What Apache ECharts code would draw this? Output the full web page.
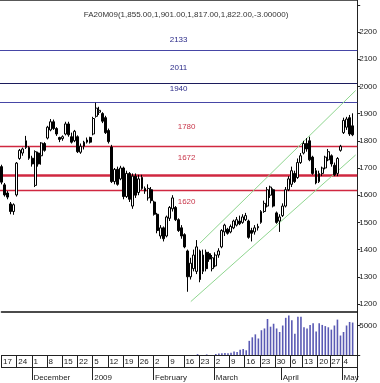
<!DOCTYPE html>
<html><head><meta charset="utf-8">
<script src="https://cdn.jsdelivr.net/npm/echarts@6/dist/echarts.min.js"></script>
<style>html,body{margin:0;padding:0;background:#fff}#c{width:380px;height:383px}</style>
</head><body><div id="c"></div>
<script>
const title = 'FA20M09(1,855.00,1,901.00,1,817.00,1,822.00,-3.00000)';
const dates = [
'2008-11-17','2008-11-18','2008-11-19','2008-11-20','2008-11-21','2008-11-24','2008-11-25','2008-11-26','2008-11-27','2008-11-28',
'2008-12-01','2008-12-02','2008-12-03','2008-12-04','2008-12-05','2008-12-08','2008-12-09','2008-12-10','2008-12-11','2008-12-12',
'2008-12-15','2008-12-16','2008-12-17','2008-12-18','2008-12-19','2008-12-22','2008-12-23','2008-12-24','2008-12-29','2008-12-30',
'2009-01-05','2009-01-06','2009-01-07','2009-01-08','2009-01-09','2009-01-12','2009-01-13','2009-01-14','2009-01-15','2009-01-16',
'2009-01-19','2009-01-20','2009-01-21','2009-01-22','2009-01-23','2009-01-26','2009-01-27','2009-01-28','2009-01-29','2009-01-30',
'2009-02-02','2009-02-03','2009-02-04','2009-02-05','2009-02-06','2009-02-09','2009-02-10','2009-02-11','2009-02-12','2009-02-13',
'2009-02-16','2009-02-17','2009-02-18','2009-02-19','2009-02-20','2009-02-23','2009-02-24','2009-02-25','2009-02-26','2009-02-27',
'2009-03-02','2009-03-03','2009-03-04','2009-03-05','2009-03-06','2009-03-09','2009-03-10','2009-03-11','2009-03-12','2009-03-13',
'2009-03-16','2009-03-17','2009-03-18','2009-03-19','2009-03-20','2009-03-23','2009-03-24','2009-03-25','2009-03-26','2009-03-27',
'2009-03-30','2009-03-31','2009-04-01','2009-04-02','2009-04-03','2009-04-06','2009-04-07','2009-04-08','2009-04-09',
'2009-04-13','2009-04-14','2009-04-15','2009-04-16','2009-04-17','2009-04-20','2009-04-21','2009-04-22','2009-04-23',
'2009-04-27','2009-04-28','2009-04-29','2009-04-30','2009-05-04','2009-05-05','2009-05-06','2009-05-07','2009-05-08'];
const weekTicks = ['2008-11-17','2008-11-24','2008-12-01','2008-12-08','2008-12-15','2008-12-22','2009-01-05','2009-01-12','2009-01-19','2009-01-26',
'2009-02-02','2009-02-09','2009-02-16','2009-02-23','2009-03-02','2009-03-09','2009-03-16','2009-03-23','2009-03-30','2009-04-06',
'2009-04-13','2009-04-20','2009-04-27','2009-05-04'];
const monthTicks = ['2008-12-01','2009-01-05','2009-02-02','2009-03-02','2009-04-01','2009-05-04'];
const monthLabels = ['December','2009','February','March','April','May'];
const opens = [1705,1638,1608,1568,1540,1601,1735,1755,1775,1775,1736,1636,1755,1745,1790,1810,1840,1870,1845,1812,
1808,1825,1862,1815,1800,1815,1758,1780,1795,1812,1825,1890,1905,1900,1885,1838,1777,1650,1695,1660,
1700,1595,1680,1560,1670,1610,1665,1625,1590,1620,1575,1530,1450,1480,1450,1515,1550,1555,1510,1480,
1455,1395,1300,1330,1320,1395,1320,1390,1385,1330,1340,1380,1410,1465,1475,1465,1480,1490,1505,1500,
1510,1505,1470,1465,1480,1500,1540,1560,1600,1620,1535,1505,1525,1560,1620,1640,1680,1665,1720,1755,
1790,1800,1740,1690,1650,1680,1700,1730,1745,1710,1680,1765,1830,1850,1885,1855];
const closes = [1648,1601,1593,1540,1565,1718,1765,1770,1800,1736,1715,1760,1715,1792,1765,1850,1870,1845,1825,1805,
1815,1862,1822,1795,1835,1760,1780,1795,1803,1795,1882,1920,1912,1872,1830,1797,1650,1695,1640,1700,
1595,1680,1585,1670,1600,1660,1625,1615,1625,1580,1530,1470,1480,1440,1520,1555,1590,1510,1470,1450,
1410,1300,1350,1380,1410,1290,1380,1330,1365,1370,1380,1395,1470,1490,1460,1485,1505,1510,1495,1520,
1525,1445,1460,1480,1485,1540,1570,1620,1630,1560,1500,1520,1560,1620,1660,1690,1650,1720,1745,1790,
1770,1730,1680,1645,1680,1700,1740,1760,1715,1675,1735,1780,1875,1880,1825,1822];
const lows = [1640,1595,1585,1530,1528,1595,1730,1745,1770,1730,1705,1630,1705,1712,1760,1805,1835,1840,1818,1795,
1800,1820,1815,1790,1795,1755,1752,1768,1790,1790,1820,1885,1895,1865,1825,1790,1645,1640,1635,1655,
1585,1590,1575,1550,1590,1600,1620,1605,1580,1570,1525,1460,1440,1430,1445,1505,1540,1505,1465,1440,
1405,1245,1290,1320,1310,1280,1310,1320,1355,1320,1335,1370,1405,1450,1455,1460,1475,1485,1490,1495,
1505,1440,1430,1455,1470,1495,1535,1555,1590,1555,1495,1465,1520,1555,1615,1630,1645,1660,1715,1750,
1760,1725,1675,1640,1645,1670,1695,1725,1705,1670,1670,1760,1825,1840,1818,1817];
const highs = [1712,1645,1615,1575,1570,1722,1770,1775,1818,1780,1745,1765,1760,1795,1795,1855,1880,1878,1850,1815,
1820,1870,1870,1830,1840,1820,1790,1800,1812,1815,1888,1940,1925,1905,1892,1845,1785,1700,1705,1708,
1705,1690,1685,1680,1680,1675,1675,1632,1640,1630,1580,1535,1490,1485,1525,1560,1600,1560,1515,1490,
1460,1400,1370,1400,1435,1400,1400,1400,1392,1380,1390,1405,1475,1495,1480,1492,1510,1520,1525,1530,
1535,1510,1480,1490,1495,1545,1580,1630,1635,1625,1540,1530,1570,1630,1670,1705,1690,1735,1755,1800,
1810,1815,1745,1700,1690,1705,1745,1770,1750,1720,1740,1785,1885,1888,1895,1901];
const volumes = [0,0,0,0,0,0,0,0,0,0, 0,0,0,0,0,0,0,0,0,0, 0,0,0,0,0,0,0,0,0,0, 0,0,0,0,0,0,0,0,0,0,
0,0,0,0,0,0,0,0,0,0, 0,0,0,0,0,0,0,0,0,0, 0,0,0,0,150,0,0,100,0,0,
150,250,300,350,300,400,600,500,900,1000, 800,2400,3000,3500,2800,4200,4500,6100,4800,5300,
4500,3900,5000,6300,6700,5900,3600,6500,6500,4700, 4500,5100,5400,4000,5400,5100,4900,4700,4300,5000,
6000,3300,3900,5000,5600,5500];
const levelsBlue = [2133, 2011, 1940];
const levelsRed = [1780, 1672, 1620];
const upperChannel = [[64.5, 1424], [116, 1985]];
const lowerChannel = [[62.0, 1209], [116, 1748]];

const FONT = 'Liberation Sans Narrow, Liberation Sans, Arial';
const weekSet = new Set(weekTicks);
const monthMap = {};
monthTicks.forEach((d, i) => monthMap[d] = monthLabels[i]);
const ohlc = opens.map((o, i) => [o, closes[i], lows[i], highs[i]]);

const blueDist = {2133: 6, 2011: 12, 1940: 10};
const redDist = {1780: 15, 1672: 14, 1620: 8};
const mlData = [];
levelsBlue.forEach(v => mlData.push({yAxis: v,
  lineStyle: {color: v === 2011 ? '#1c1c5c' : '#4646a6', width: 1.2, type: 'solid'},
  label: {show: true, formatter: String(v), position: 'insideMiddleTop', distance: blueDist[v], color: '#2a2a88', fontSize: 8, fontFamily: FONT}}));
levelsRed.forEach(v => mlData.push({yAxis: v,
  lineStyle: {color: '#d02840', width: v === 1672 ? 2.6 : 1.4, type: 'solid'},
  label: {show: true, formatter: String(v), position: v === 1620 ? 'insideMiddleBottom' : 'insideMiddleTop', distance: redDist[v], offset: [8, 0], color: '#c8364a', fontSize: 8, fontFamily: FONT}}));
[upperChannel, lowerChannel].forEach(ch => mlData.push([
  {coord: ch[0], lineStyle: {color: '#8fd68f', width: 1, type: 'solid'}, label: {show: false}},
  {coord: ch[1]}]));

const chart = echarts.init(document.getElementById('c'), null, {renderer: 'canvas'});
chart.setOption({
  animation: false,
  backgroundColor: '#fff',
  title: {text: title, left: 181, textAlign: 'center', top: 6, textStyle: {fontSize: 8, fontWeight: 'normal', color: '#333', fontFamily: FONT}},
  grid: [{left: 0, right: 18, top: 0, height: 312}, {left: 0, right: 18, top: 312, height: 43}],
  xAxis: [
    {type: 'category', gridIndex: 0, data: dates, position: 'top', axisLine: {show: true, onZero: false, lineStyle: {color: '#222', width: 1.5}}, axisTick: {show: false}, axisLabel: {show: false}},
    {type: 'category', gridIndex: 1, data: dates, position: 'bottom', axisLine: {show: true, onZero: false, lineStyle: {color: '#222'}},
      axisTick: {show: true, interval: (i, v) => weekSet.has(v), length: 12, lineStyle: {color: '#222'}},
      axisLabel: {show: true, interval: (i, v) => weekSet.has(v), formatter: v => String(parseInt(v.slice(8), 10)), align: 'left', margin: 3, fontSize: 8, color: '#222', fontFamily: FONT}},
    {type: 'category', gridIndex: 1, data: dates, position: 'bottom', offset: 12, axisLine: {show: true, onZero: false, lineStyle: {color: '#222'}},
      axisTick: {show: true, interval: (i, v) => v in monthMap, length: 13, lineStyle: {color: '#222'}},
      axisLabel: {show: true, interval: (i, v) => v in monthMap, formatter: v => monthMap[v] || '', align: 'left', margin: 7, fontSize: 8, color: '#222', fontFamily: FONT}},
    {type: 'category', gridIndex: 1, data: dates, position: 'top', axisLine: {show: true, onZero: false, lineStyle: {color: '#111', width: 1.5}}, axisTick: {show: false}, axisLabel: {show: false}}
  ],
  yAxis: [
    {type: 'value', gridIndex: 0, position: 'right', min: 1170.6, max: 2317.6, splitNumber: 11, scale: true,
      splitLine: {show: false}, axisLine: {show: true, onZero: false, lineStyle: {color: '#222'}}, axisTick: {show: true, length: 3, lineStyle: {color: '#222'}},
      axisLabel: {showMinLabel: false, showMaxLabel: false, formatter: v => (v % 100 === 0 && v <= 2200) ? String(v) : '', margin: 2, fontSize: 8, color: '#222', fontFamily: FONT}},
    {type: 'value', gridIndex: 1, position: 'right', min: 0, max: 7290, interval: 5000,
      splitLine: {show: false}, axisLine: {show: true, onZero: false, lineStyle: {color: '#222'}}, axisTick: {show: true, length: 3, lineStyle: {color: '#222'}},
      axisLabel: {showMaxLabel: false, formatter: v => v === 5000 ? '5000' : '', margin: 2, fontSize: 8, color: '#222', fontFamily: FONT}}
  ],
  series: [
    {type: 'candlestick', xAxisIndex: 0, yAxisIndex: 0, data: ohlc, barWidth: 2.4, z: 2,
      itemStyle: {color: '#ffffff', color0: '#000000', borderColor: '#000', borderColor0: '#000', borderWidth: 1},
      markLine: {silent: true, symbol: ['none', 'none'], z: 1, data: mlData}},
    {type: 'bar', xAxisIndex: 1, yAxisIndex: 1, data: volumes, barWidth: 1.6, itemStyle: {color: '#5a5ab4'}}
  ]
});
</script></body></html>
